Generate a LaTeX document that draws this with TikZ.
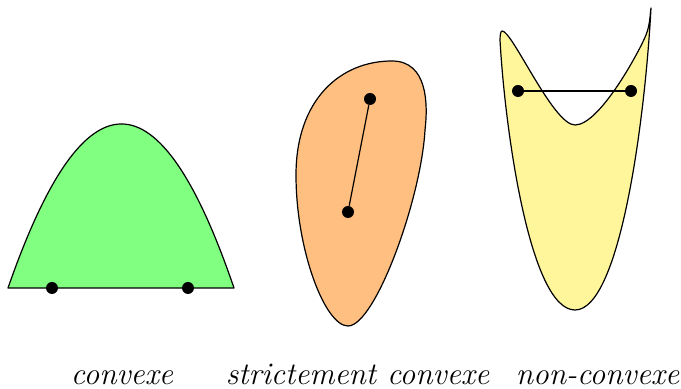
\documentclass[tikz,border=0pt]{standalone}
\usepackage{tikz}
\definecolor{cgreen}{RGB}{128,255,128}
\definecolor{corange}{RGB}{255,191,128}
\definecolor{cyellow}{RGB}{255,245,155}
\tikzset{
  region/.style={draw=black, line width=0.6pt, line join=round},
  pt/.style={circle, fill=black, inner sep=0pt, minimum size=6pt},
  seg/.style={draw=black, line width=0.6pt},
  lbl/.style={anchor=base, inner sep=0pt, font=\fontsize{15.7}{18}\selectfont\itshape}
}
\begin{document}
\begin{tikzpicture}[x=0.5pt, y=-0.5pt]
\useasboundingbox (0,0) rectangle (681,389);
% convexe
\path[region, fill=cgreen] (8,288) .. controls (84,69.3) and (159.3,69.3) .. (234,288) -- cycle;
% strictement convexe
\path[region, fill=corange] (348,326) .. controls (325,326) and (296,250) .. (296,175)
  .. controls (296,100) and (340,61) .. (392,61)
  .. controls (428,61) and (428,105) .. (425,130)
  .. controls (421,200) and (375,326) .. (348,326) -- cycle;
% non-convexe
\path[region, fill=cyellow] (502,31) .. controls (512,30) and (553,125) .. (575,125)
  .. controls (600,125) and (640,50) .. (646,35)
  .. controls (650,25) and (650,15) .. (651,8)
  .. controls (645,120) and (620,310) .. (575,310)
  .. controls (530,310) and (505,130) .. (500,40)
  .. controls (500,34) and (501,31) .. (502,31) -- cycle;
% points
\node[pt] (a1) at (52,288) {};
\node[pt] (a2) at (188,288) {};
\node[pt] (b1) at (370,99) {};
\node[pt] (b2) at (348,212) {};
\node[pt] (c1) at (518,91) {};
\node[pt] (c2) at (631,91) {};
\draw[seg] (b1) -- (b2);
\draw[seg] (c1) -- (c2);
% labels
\node[lbl] (l1) at (122,385) {convexe};
\node[lbl] (l2) at (357.5,385) {strictement convexe};
\node[lbl] (l3) at (597.5,385) {non-convexe};
\end{tikzpicture}
\end{document}
